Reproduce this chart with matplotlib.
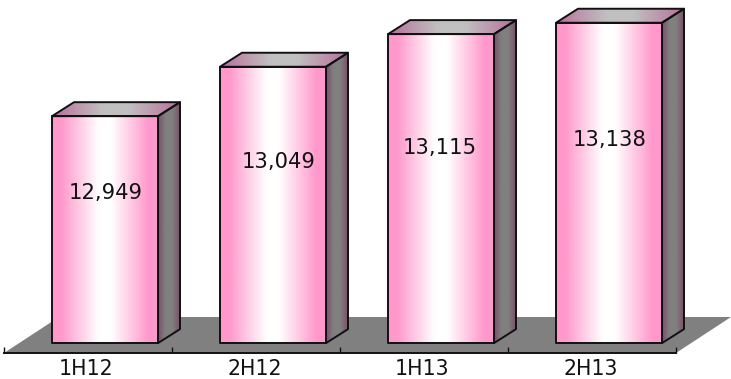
import matplotlib
matplotlib.use('Agg')
import matplotlib.pyplot as plt
import numpy as np
from matplotlib.colors import LinearSegmentedColormap
from matplotlib.patches import Polygon

categories = ['1H12', '2H12', '1H13', '2H13']
values = [12949, 13049, 13115, 13138]

# value axis limits and the level the bars stand on
y_floor = 12470
y_top = 13184
y_base = 12490

plt.rcParams['font.family'] = ['DejaVu Sans']

front_cmap = LinearSegmentedColormap.from_list('front', [
    (0.0, '#ff99cc'), (0.09, '#ff99cc'), (0.44, '#ffffff'),
    (0.56, '#ffffff'), (0.91, '#ff99cc'), (1.0, '#ff99cc')])
side_cmap = LinearSegmentedColormap.from_list('side', [
    (0.0, '#7a4f6a'), (0.35, '#808080'), (0.65, '#808080'), (1.0, '#7a4f6a')])
top_cmap = LinearSegmentedColormap.from_list('top', [
    (0.0, '#b9709c'), (0.4, '#c0c0c0'), (0.6, '#c0c0c0'), (1.0, '#b9709c')])
gradient = np.linspace(0, 1, 256).reshape(1, -1)


def draw_face(ax, corners, cmap):
    """polygon filled with a horizontal gradient, corners as (x, y, dx, dy)"""
    disp = np.array([ax.transData.transform((x, y)) + (dx, dy) for x, y, dx, dy in corners])
    pts = ax.transData.inverted().transform(disp)
    im = ax.imshow(gradient, cmap=cmap, aspect='auto', zorder=3,
                   extent=(pts[:, 0].min(), pts[:, 0].max(), pts[:, 1].min(), pts[:, 1].max()))
    face = Polygon(pts, closed=True, facecolor='none', edgecolor='#111111',
                   linewidth=1.4, zorder=4, clip_on=False, joinstyle='round')
    ax.add_patch(face)
    im.set_clip_box(ax.figure.bbox)
    im.set_clip_path(face)


fig = plt.figure(figsize=(7.31, 3.79), dpi=100)
ax = fig.add_axes([4 / 731, 26 / 379, 672 / 731, 353 / 379])
ax.patch.set_visible(False)
ax.set_xlim(0, 4)
ax.set_ylim(y_floor, y_top)
ax.set_autoscale_on(False)

# floor of the 3d box
floor_dx, floor_dy = 55, 36
p0 = ax.transData.transform((0, y_floor))
p1 = ax.transData.transform((4, y_floor))
floor_pts = ax.transData.inverted().transform(
    [p0, p1, p1 + (floor_dx, floor_dy), p0 + (floor_dx, floor_dy)])
ax.add_patch(Polygon(floor_pts, closed=True, facecolor='#808080', edgecolor='none',
                     zorder=1, clip_on=False))

# bars: front, side and top faces
depth_dx, depth_dy = 22, 14
bar_w = 106 / 168
bar_offset = 0.5 + 17 / 168
for i, v in enumerate(values):
    x0 = i + bar_offset - bar_w / 2
    x1 = x0 + bar_w
    draw_face(ax, [(x1, y_base, 0, 0), (x1, y_base, depth_dx, depth_dy),
                   (x1, v, depth_dx, depth_dy), (x1, v, 0, 0)], side_cmap)
    draw_face(ax, [(x0, v, 0, 0), (x1, v, 0, 0), (x1, v, depth_dx, depth_dy),
                   (x0, v, depth_dx, depth_dy)], top_cmap)
    draw_face(ax, [(x0, y_base, 0, 0), (x1, y_base, 0, 0), (x1, v, 0, 0),
                   (x0, v, 0, 0)], front_cmap)

# value labels, placed by hand inside each bar (pixels from top left)
label_px = [(106, 193), (279, 162), (440, 148), (610, 140)]
for v, (px, py) in zip(values, label_px):
    fig.text(px / 731, 1 - py / 379, f'{v:,}', ha='center', va='center',
             fontsize=15.2, color='#111111', zorder=6)

# category axis
for side in ['top', 'left', 'right']:
    ax.spines[side].set_visible(False)
ax.spines['bottom'].set_linewidth(1.4)
ax.spines['bottom'].set_color('#111111')
ax.spines['bottom'].set_zorder(5)
ax.set_yticks([])
ax.set_xticks(range(5))
ax.set_xticklabels([])
ax.tick_params(axis='x', which='major', direction='in', length=4.5, width=1.0,
               color='#111111')
ax.set_xticks(np.arange(4) + 0.49, minor=True)
ax.set_xticklabels(categories, minor=True, fontsize=14.8, color='#111111')
ax.tick_params(axis='x', which='minor', length=0, pad=4.2)

fig.savefig('out.png', dpi=100)
plt.close(fig)
